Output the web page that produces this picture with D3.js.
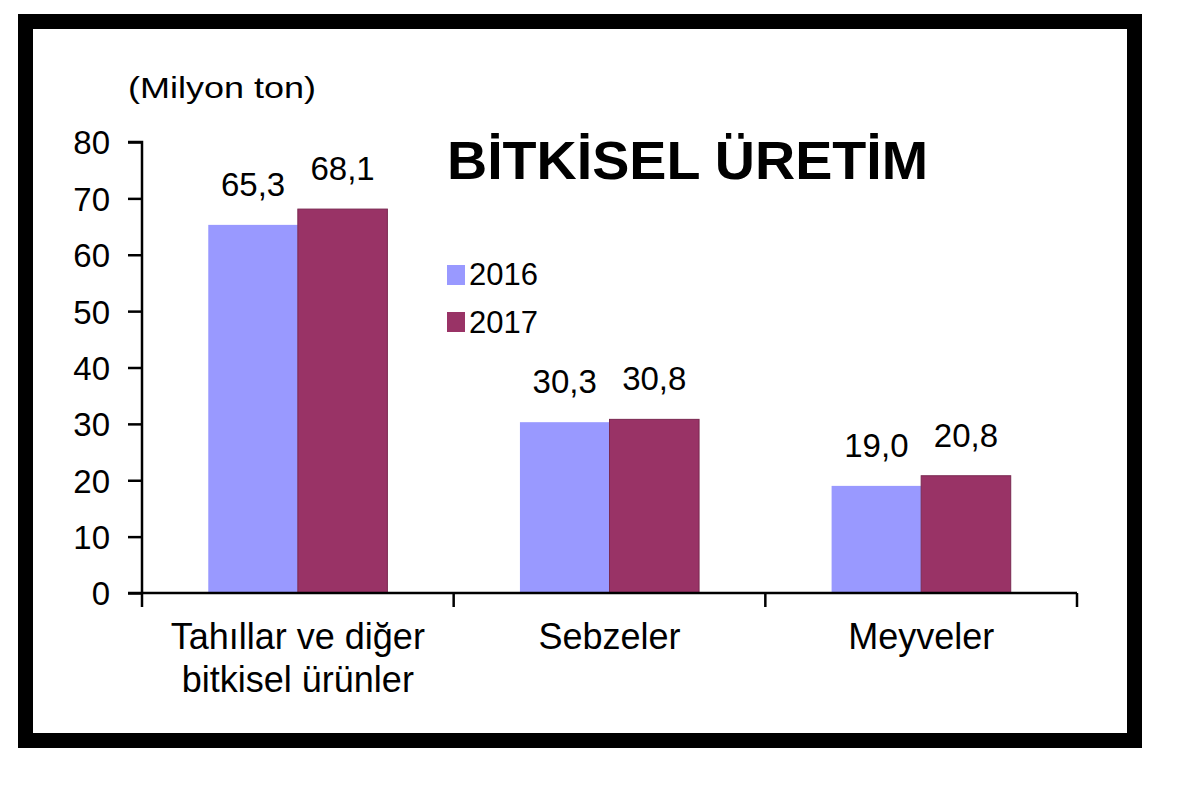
<!DOCTYPE html>
<html>
<head>
<meta charset="utf-8">
<script src="https://cdn.jsdelivr.net/npm/d3@7/dist/d3.min.js"></script>
<style>
  html, body { margin: 0; padding: 0; background: #ffffff; }
  svg { display: block; }
  text { font-family: "Liberation Sans", Arial, sans-serif; fill: #000; }
</style>
</head>
<body>
<svg id="chart" width="1200" height="792"></svg>
<script>
// ---- Data ----
const categories = [["Tahıllar ve diğer", "bitkisel ürünler"], ["Sebzeler"], ["Meyveler"]];
const categoryKeys = ["Tahıllar ve diğer bitkisel ürünler", "Sebzeler", "Meyveler"];
const years = ["2016", "2017"];
const values2016 = [65.3, 30.3, 19.0];
const values2017 = [68.1, 30.8, 20.8];
const yTicks = [0, 10, 20, 30, 40, 50, 60, 70, 80];
const colors = ["#9999FF", "#993366"];
const title = "BİTKİSEL ÜRETİM";
const unitLabel = "(Milyon ton)";

const seriesValues = [values2016, values2017];
const fmt = v => v.toFixed(1).replace(".", ",");

const svg = d3.select("#chart");

// Frame
svg.append("rect")
  .attr("x", 25.5).attr("y", 21.5)
  .attr("width", 1109).attr("height", 719)
  .attr("fill", "#fff").attr("stroke", "#000").attr("stroke-width", 15);

// Scales
const plotLeft = 142, plotRight = 1077, plotTop = 142, plotBottom = 593;
const x = d3.scaleBand().domain(categoryKeys).range([plotLeft, plotRight]).padding(0);
const xSub = d3.scaleBand().domain(years).range([0, x.bandwidth()]).paddingInner(0).paddingOuter(0.74);
const y = d3.scaleLinear().domain([0, 80]).range([plotBottom, plotTop]);

// Bars
const data = [];
categoryKeys.forEach((c, i) => years.forEach((yr, j) => data.push({c, yr, j, v: seriesValues[j][i]})));

svg.append("g").selectAll("rect").data(data).join("rect")
  .attr("x", d => x(d.c) + xSub(d.yr))
  .attr("y", d => y(d.v))
  .attr("width", xSub.bandwidth())
  .attr("height", d => y(0) - y(d.v))
  .attr("fill", d => colors[d.j])
  .attr("stroke", d => d.j === 1 ? "#7a2850" : "none")
  .attr("stroke-width", 1);

// Value labels
svg.append("g").selectAll("text").data(data).join("text")
  .attr("x", d => x(d.c) + xSub(d.yr) + xSub.bandwidth() / 2)
  .attr("y", d => y(d.v) - 29)
  .attr("text-anchor", "middle")
  .attr("font-size", 33)
  .text(d => fmt(d.v));

// Y axis
const yAxis = d3.axisLeft(y).tickValues(yTicks).tickSize(14).tickPadding(18).tickFormat(d3.format("d"));
const gy = svg.append("g").attr("transform", `translate(${plotLeft},0)`).call(yAxis);
gy.select(".domain").attr("stroke", "#000").attr("stroke-width", 2.5).attr("d", `M-14,${plotTop}H0V${plotBottom}`);
gy.selectAll(".tick line").attr("stroke", "#000").attr("stroke-width", 2.5);
gy.selectAll(".tick text").attr("font-size", 33).attr("font-family", "Liberation Sans, Arial, sans-serif").attr("fill", "#000").attr("dy", "0.36em");

// X axis
const xAxis = d3.axisBottom(x).tickSize(0).tickFormat("");
const gx = svg.append("g").attr("transform", `translate(0,${plotBottom})`).call(xAxis);
gx.select(".domain").attr("stroke", "#000").attr("stroke-width", 2.5).attr("d", `M${plotLeft - 14},0H${plotRight}`);
const boundaries = categoryKeys.map(c => x(c)).concat([x(categoryKeys[categoryKeys.length - 1]) + x.bandwidth()]);
gx.selectAll(".bound").data(boundaries).join("line")
  .attr("x1", d => d).attr("x2", d => d).attr("y1", 0).attr("y2", 14)
  .attr("stroke", "#000").attr("stroke-width", 2.5);

// Category labels
const catG = svg.append("g");
categoryKeys.forEach((c, i) => {
  const t = catG.append("text")
    .attr("x", x(c) + x.bandwidth() / 2)
    .attr("y", 649)
    .attr("text-anchor", "middle")
    .attr("font-size", 36);
  categories[i].forEach((line, k) => {
    t.append("tspan").attr("x", x(c) + x.bandwidth() / 2).attr("dy", k === 0 ? 0 : 43).text(line);
  });
});

// Unit label
svg.append("text").attr("x", 128).attr("y", 98)
  .attr("font-size", 29)
  .attr("textLength", 188).attr("lengthAdjust", "spacingAndGlyphs")
  .text(unitLabel);

// Title
svg.append("text").attr("x", 447).attr("y", 179)
  .attr("font-size", 53).attr("font-weight", "bold")
  .attr("textLength", 481).attr("lengthAdjust", "spacingAndGlyphs")
  .text(title);

// Legend
const legend = svg.append("g");
years.forEach((yr, j) => {
  legend.append("rect").attr("x", 447).attr("y", 265 + j * 47).attr("width", 18).attr("height", 20).attr("fill", colors[j]);
  legend.append("text").attr("x", 469).attr("y", 285 + j * 48).attr("font-size", 31).text(yr);
});
</script>
</body>
</html>
